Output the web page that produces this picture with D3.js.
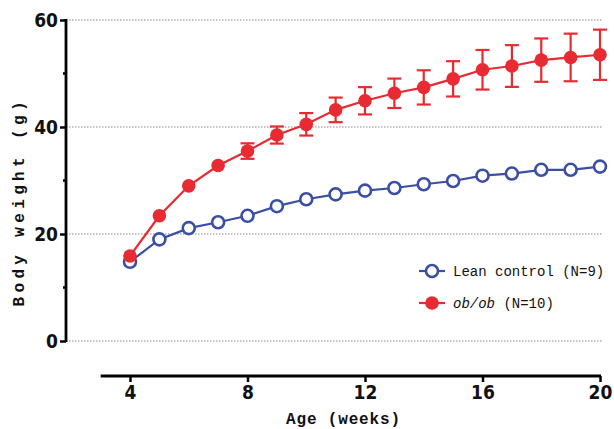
<!DOCTYPE html>
<html>
<head>
<meta charset="utf-8">
<script src="https://cdn.jsdelivr.net/npm/d3@7"></script>
<style>
  html, body { margin: 0; padding: 0; background: #fff; }
  svg { display: block; }
</style>
</head>
<body>
<svg id="root" width="614" height="429"></svg>
<script>
// data
const weeks = [4, 5, 6, 7, 8, 9, 10, 11, 12, 13, 14, 15, 16, 17, 18, 19, 20];
const leanMean = [14.8, 19.0, 21.1, 22.2, 23.4, 25.2, 26.5, 27.4, 28.1, 28.6, 29.3, 29.9, 30.9, 31.3, 32.0, 32.0, 32.6];
const leanSem = [0.4, 0.4, 0.5, 0.5, 0.5, 0.5, 0.6, 0.6, 0.6, 0.6, 0.6, 0.7, 0.7, 0.7, 0.7, 0.7, 0.8];
const obMean = [15.9, 23.4, 29.0, 32.8, 35.5, 38.5, 40.5, 43.2, 44.9, 46.3, 47.4, 49.0, 50.7, 51.4, 52.5, 53.0, 53.5];
const obSem = [0.4, 0.6, 0.8, 1.0, 1.45, 1.6, 2.1, 2.3, 2.55, 2.75, 3.2, 3.3, 3.7, 3.9, 4.05, 4.45, 4.7];
const xTicks = [4, 8, 12, 16, 20];
const yTicks = [0, 20, 40, 60];
const yMinor = [10, 30, 50];

const blue = '#3a4fa3';
const red = '#e82a32';
const tickFont = '"Liberation Sans Narrow", "DejaVu Sans Condensed", Arial, sans-serif';
const monoFont = '"Liberation Mono", "DejaVu Sans Mono", monospace';

const svg = d3.select('#root');

const x = d3.scaleLinear().domain([4, 20]).range([130, 600]);
const y = d3.scaleLinear().domain([0, 60]).range([341, 20]);

// dotted grid lines
svg.append('g')
  .selectAll('line')
  .data(yTicks)
  .enter()
  .append('line')
  .attr('x1', 66)
  .attr('x2', x(20) + 2)
  .attr('y1', d => y(d))
  .attr('y2', d => y(d))
  .attr('stroke', '#888')
  .attr('stroke-width', 1.2)
  .attr('stroke-dasharray', '1.5,1.5');

// y axis
const yAxis = svg.append('g')
  .attr('transform', 'translate(66,0)')
  .call(d3.axisLeft(y).tickValues(yTicks).tickSize(6).tickPadding(2));
yAxis.select('.domain').remove();
yAxis.selectAll('.tick line').attr('stroke', '#000').attr('stroke-width', 2.5);
yAxis.selectAll('.tick text')
  .attr('font-family', tickFont)
  .attr('font-weight', 'bold')
  .attr('font-size', 19)
  .attr('fill', '#111');
yAxis.append('line')
  .attr('y1', y(0) + 1)
  .attr('y2', y(60) - 1)
  .attr('stroke', '#000')
  .attr('stroke-width', 2.8);
yAxis.selectAll('.minor')
  .data(yMinor)
  .enter()
  .append('line')
  .attr('x1', -3)
  .attr('x2', 0)
  .attr('y1', d => y(d))
  .attr('y2', d => y(d))
  .attr('stroke', '#000')
  .attr('stroke-width', 2.5);

// x axis (detached below the plot)
const xAxis = svg.append('g')
  .attr('transform', 'translate(0,376)')
  .call(d3.axisBottom(x).tickValues(xTicks).tickSize(6).tickPadding(4));
xAxis.select('.domain').remove();
xAxis.selectAll('.tick line').attr('stroke', '#000').attr('stroke-width', 2.5);
xAxis.selectAll('.tick text')
  .attr('font-family', tickFont)
  .attr('font-weight', 'bold')
  .attr('font-size', 19)
  .attr('fill', '#111');
xAxis.append('line')
  .attr('x1', x(3))
  .attr('x2', x(20) + 1)
  .attr('stroke', '#000')
  .attr('stroke-width', 2.8);

// axis titles
svg.append('text')
  .attr('x', 343)
  .attr('y', 424)
  .attr('text-anchor', 'middle')
  .attr('font-family', monoFont)
  .attr('font-weight', 'bold')
  .attr('font-size', 16)
  .attr('textLength', 114)
  .attr('fill', '#111')
  .text('Age (weeks)');

svg.append('text')
  .attr('transform', 'translate(24,204) rotate(-90)')
  .attr('text-anchor', 'middle')
  .attr('font-family', monoFont)
  .attr('font-weight', 'bold')
  .attr('font-size', 16)
  .attr('textLength', 205)
  .attr('fill', '#111')
  .text('Body weight (g)');

const series = [
  { mean: leanMean, sem: leanSem, color: blue, open: true, r: 6 },
  { mean: obMean, sem: obSem, color: red, open: false, r: 6.8 },
];

const line = d3.line().x(d => x(d.w)).y(d => y(d.m));

series.forEach(s => {
  const pts = weeks.map((w, i) => ({ w, m: s.mean[i], e: s.sem[i] }));
  const g = svg.append('g');

  g.append('path')
    .datum(pts)
    .attr('d', line)
    .attr('fill', 'none')
    .attr('stroke', s.color)
    .attr('stroke-width', 2.2);

  // error bars, only where they stick out of the marker
  const visible = pts.filter(d => y(d.m - d.e) - y(d.m) > s.r - 0.5);
  const eb = g.selectAll('.eb').data(visible).enter().append('g');
  eb.append('line')
    .attr('x1', d => x(d.w)).attr('x2', d => x(d.w))
    .attr('y1', d => y(d.m - d.e)).attr('y2', d => y(d.m + d.e))
    .attr('stroke', s.color).attr('stroke-width', 2.2);
  [-1, 1].forEach(sign => {
    eb.append('line')
      .attr('x1', d => x(d.w) - 7).attr('x2', d => x(d.w) + 7)
      .attr('y1', d => y(d.m + sign * d.e)).attr('y2', d => y(d.m + sign * d.e))
      .attr('stroke', s.color).attr('stroke-width', 2.2);
  });

  g.selectAll('circle')
    .data(pts)
    .enter()
    .append('circle')
    .attr('cx', d => x(d.w))
    .attr('cy', d => y(d.m))
    .attr('r', s.r)
    .attr('fill', s.open ? '#fff' : s.color)
    .attr('stroke', s.color)
    .attr('stroke-width', s.open ? 2.6 : 0);
});

// legend
const legend = [
  { color: blue, open: true, label: 'Lean control (N=9)', italic: null, y: 271 },
  { color: red, open: false, label: ' (N=10)', italic: 'ob/ob', y: 303 },
];
const lg = svg.append('g');
legend.forEach(l => {
  lg.append('line')
    .attr('x1', 419).attr('x2', 445)
    .attr('y1', l.y).attr('y2', l.y)
    .attr('stroke', l.color).attr('stroke-width', 2.2);
  lg.append('circle')
    .attr('cx', 432).attr('cy', l.y)
    .attr('r', l.open ? 6 : 6.8)
    .attr('fill', l.open ? '#fff' : l.color)
    .attr('stroke', l.color)
    .attr('stroke-width', l.open ? 2.6 : 0);
  const t = lg.append('text')
    .attr('x', 453)
    .attr('y', l.y + 5)
    .attr('font-family', monoFont)
    .attr('font-size', 14)
    .attr('fill', '#111');
  if (l.italic) {
    t.append('tspan').attr('font-style', 'italic').text(l.italic);
  }
  t.append('tspan').text(l.label);
});
</script>
</body>
</html>
